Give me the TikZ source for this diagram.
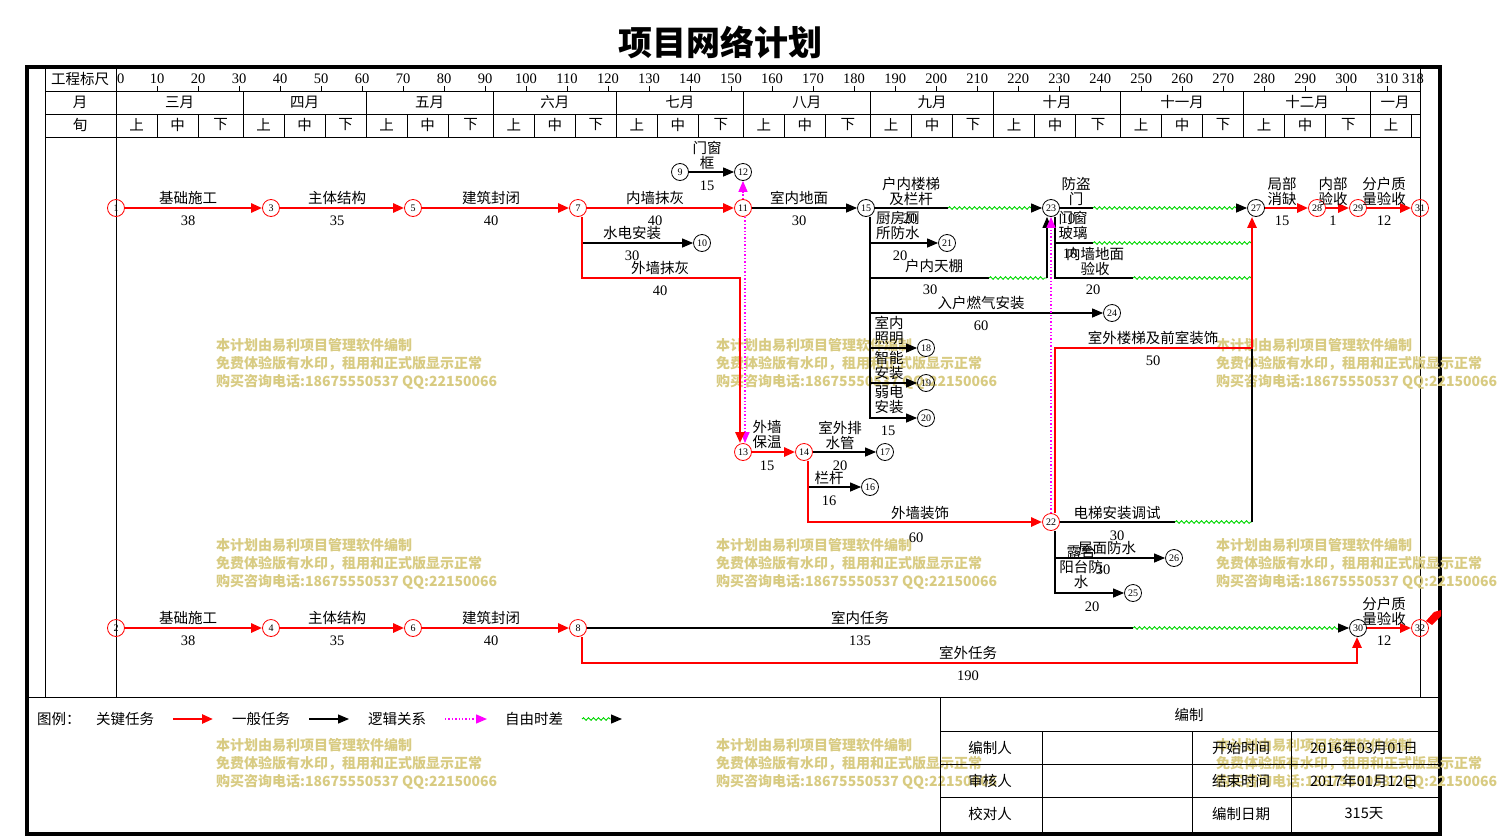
\documentclass[tikz,border=0pt]{standalone}
\usepackage{fontspec}
\setmainfont{Liberation Serif}
\newfontfamily\cjk{Noto Sans CJK SC}
\usetikzlibrary{positioning, arrows.meta, decorations.pathmorphing}
\definecolor{wmark}{RGB}{216,203,130}
\definecolor{slackgreen}{RGB}{0,215,0}
\definecolor{logicpink}{RGB}{255,0,255}
\tikzset{
    grid/.style={draw, line width=1pt},
    lbl/.style={font=\cjk\fontsize{14.5}{15}\selectfont, align=center, inner sep=0pt},
    dur/.style={font=\fontsize{14.5}{15}\selectfont, inner sep=0pt},
    evt/.style={circle, draw, line width=0.8pt, inner sep=0pt, minimum size=17pt, font=\fontsize{10}{10}\selectfont},
    critevt/.style={evt, draw=red},
    crit/.style={draw=red, line width=2.6pt},
    norm/.style={draw=black, line width=1.2pt},
    logic/.style={draw=logicpink, line width=1.4pt, dash pattern=on 1.4pt off 2pt},
    slack/.style={draw=slackgreen, line width=0.9pt, decorate, decoration={snake, amplitude=1.3pt, segment length=5pt}},
    tip/.style={-{Triangle[length=11pt,width=9pt]}},
    wm/.style={font=\cjk\bfseries\fontsize{14}{18}\selectfont, text=wmark, align=left, anchor=west, inner sep=0pt}
}
\begin{document}
\begin{tikzpicture}[x=1pt, y=-1pt]
    \useasboundingbox (0,0) rectangle (1499,838);

    % Title
    \node[font=\cjk\bfseries\fontsize{34}{36}\selectfont, inner sep=0pt] (title) at (720,42) {项目网络计划};

    % Frame and header grid
    \draw[line width=4pt] (27,67) rectangle (1440,834);
    \draw[grid] (45,67) -- (45,697);
    \draw[grid] (116,67) -- (116,697);
    \draw[grid] (1420,67) -- (1420,697);
    \draw[grid] (45,91) -- (1420,91);
    \draw[grid] (45,114) -- (1420,114);
    \draw[grid] (45,137) -- (1420,137);
    \draw[grid] (27,697) -- (1440,697);

    % Scale row
    \node[lbl] (hscale) at (80,79) {工程标尺};
    \node[lbl] (hmonth) at (80,102) {月};
    \node[lbl] (hxun) at (80,125) {旬};
    \node[dur, anchor=west] (s0) at (117,79) {0};
    \foreach \d in {10,20,...,310}{
        \pgfmathsetmacro\x{116+\d*4.10063}
        \draw[grid] (\x,86) -- (\x,91);
        \node[dur] (s\d) at (\x,79) {\d};
    }
    \node[dur, anchor=east] (s318) at (1424,79) {318};

    % Months and ten-day periods
    \foreach \a/\b/\m [count=\i] in {0/31/三月, 31/61/四月, 61/92/五月, 92/122/六月, 122/153/七月, 153/184/八月, 184/214/九月, 214/245/十月, 245/275/十一月, 275/306/十二月}{
        \pgfmathsetmacro\xa{116+\a*4.10063}
        \pgfmathsetmacro\xb{116+\b*4.10063}
        \pgfmathsetmacro\xc{\xa+41.0063}
        \pgfmathsetmacro\xd{\xa+82.0126}
        \draw[grid] (\xb,91) -- (\xb,137);
        \draw[grid] (\xc,114) -- (\xc,137);
        \draw[grid] (\xd,114) -- (\xd,137);
        \node[lbl] (mon\i) at ({(\xa+\xb)/2},102) {\m};
        \node[lbl] (up\i) at ({(\xa+\xc)/2},125) {上};
        \node[lbl] (mid\i) at ({(\xc+\xd)/2},125) {中};
        \node[lbl] (low\i) at ({(\xd+\xb)/2},125) {下};
    }
    \draw[grid] (1411.8,114) -- (1411.8,137);
    \node[lbl] (mon11) at (1395,102) {一月};
    \node[lbl] (up11) at (1391,125) {上};

    % Watermarks
    \foreach \wx/\wy [count=\k] in {216/346, 716/346, 1216/346, 216/546, 716/546, 1216/546, 216/746, 716/746, 1216/746}{
        \node[wm] (wm\k) at (\wx,\wy+18) {本计划由易利项目管理软件编制\\免费体验版有水印，租用和正式版显示正常\\购买咨询电话:18675550537 QQ:22150066};
    }

    % Events
    \node[critevt] (n1) at (116,208) {1};
    \node[critevt] (n3) at (271,208) {3};
    \node[critevt] (n5) at (413,208) {5};
    \node[critevt] (n7) at (578,208) {7};
    \node[evt] (n9) at (680,172) {9};
    \node[evt] (n12) at (743,172) {12};
    \node[evt] (n10) at (702,243) {10};
    \node[critevt] (n11) at (743,208) {11};
    \node[evt] (n15) at (866,208) {15};
    \node[evt] (n21) at (947,243) {21};
    \node[evt] (n24) at (1112,313) {24};
    \node[evt] (n18) at (926,348) {18};
    \node[evt] (n19) at (926,383) {19};
    \node[evt] (n20) at (926,418) {20};
    \node[evt] (n23) at (1051,208) {23};
    \node[evt] (n27) at (1256,208) {27};
    \node[critevt] (n28) at (1317,208) {28};
    \node[critevt] (n29) at (1358,208) {29};
    \node[critevt] (n31) at (1420,208) {31};
    \node[critevt] (n13) at (743,452) {13};
    \node[critevt] (n14) at (804,452) {14};
    \node[evt] (n17) at (885,452) {17};
    \node[evt] (n16) at (870,487) {16};
    \node[critevt] (n22) at (1051,522) {22};
    \node[evt] (n26) at (1174,558) {26};
    \node[evt] (n25) at (1133,593) {25};
    \node[critevt] (n2) at (116,628) {2};
    \node[critevt] (n4) at (271,628) {4};
    \node[critevt] (n6) at (413,628) {6};
    \node[critevt] (n8) at (578,628) {8};
    \node[evt] (n30) at (1358,628) {30};
    \node[critevt] (n32) at (1420,628) {32};

    % Bend points
    \coordinate (v7) at ([xshift=4pt]n7.south);
    \coordinate (v14) at ([xshift=4pt]n14.south);
    \coordinate (v15) at ([xshift=4pt]n15.south);
    \coordinate (v23) at ([xshift=4pt]n23.south);
    \coordinate (v22) at ([xshift=4pt]n22.south);
    \coordinate (u22) at ([xshift=4pt]n22.north);
    \coordinate (v8) at ([xshift=4pt]n8.south);
    \coordinate (k13) at (740,278);
    \coordinate (p1) at (948,208);
    \coordinate (p2) at (1032,208);
    \coordinate (p3) at (1093,208);
    \coordinate (p4) at (1238,208);
    \coordinate (w1) at (989,278);
    \coordinate (w2) at (1047,278);
    \coordinate (g1) at (1093,243);
    \coordinate (g2) at (1252,243);
    \coordinate (g3) at (1133,278);
    \coordinate (g4) at (1252,278);
    \coordinate (r1) at (1252,348);
    \coordinate (e1) at (1175,522);
    \coordinate (e2) at (1252,522);
    \coordinate (q1) at (1133,628);
    \coordinate (q2) at (1342,628);
    \coordinate (o1) at (1357,663);

    % General tasks
    \draw[norm,tip] (n9) -- (n12);
    \draw[norm,tip] (v7) |- (n10);
    \draw[norm,tip] (n11) -- (n15);
    \draw[norm] (n15) -- (p1);
    \draw[slack] (p1) -- (p2);
    \draw[norm,tip] (p2) -- (n23);
    \draw[norm,tip] (v15) |- (n21);
    \draw[norm] (v15) |- (w1);
    \draw[slack] (w1) -- (w2);
    \draw[norm,tip] (w2) -- (w2 |- n23.south);
    \draw[norm,tip] (v15) |- (n24);
    \draw[norm,tip] (v15) |- (n18);
    \draw[norm,tip] (v15) |- (n19);
    \draw[norm,tip] (v15) |- (n20);
    \draw[norm] (n23) -- (p3);
    \draw[slack] (p3) -- (p4);
    \draw[norm,tip] (p4) -- (n27);
    \draw[norm] (v23) |- (g1);
    \draw[slack] (g1) -- (g2);
    \draw[norm] (v23) |- (g3);
    \draw[slack] (g3) -- (g4);
    \draw[norm,tip] (n14) -- (n17);
    \draw[norm,tip] (v14) |- (n16);
    \draw[norm] (n22) -- (e1);
    \draw[slack] (e1) -- (e2);
    \draw[norm] (e2) -- (r1);
    \draw[norm,tip] (v22) |- (n26);
    \draw[norm,tip] (v22) |- (n25);
    \draw[norm] (n8) -- (q1);
    \draw[slack] (q1) -- (q2);
    \draw[norm,tip] (q2) -- (n30);

    % Logic links
    \draw[logic,tip] (n11.north) -- (n12.south);
    \draw[logic,tip] ([xshift=2pt]n11.south) -- ([xshift=2pt]n13.north);
    \draw[logic,tip] (n22.north) -- (n23.south);

    % Critical tasks
    \draw[crit,tip] (n1) -- (n3);
    \draw[crit,tip] (n3) -- (n5);
    \draw[crit,tip] (n5) -- (n7);
    \draw[crit,tip] (n7) -- (n11);
    \draw[crit,tip] (v7) |- (k13) -- (k13 |- n13.north);
    \draw[crit,tip] (n13) -- (n14);
    \draw[crit,tip] (v14) |- (n22);
    \draw[crit,tip] (u22) |- (r1) -- (r1 |- n27.south);
    \draw[crit,tip] (n27) -- (n28);
    \draw[crit,tip] (n28) -- (n29);
    \draw[crit,tip] (n29) -- (n31);
    \draw[crit,tip] (n2) -- (n4);
    \draw[crit,tip] (n4) -- (n6);
    \draw[crit,tip] (n6) -- (n8);
    \draw[crit,tip] (v8) |- (o1) -- (o1 |- n30.south);
    \draw[crit,tip] (n30) -- (n32);
    \fill[red] (1426,621) -- (1434,612) -- (1441,610) -- (1441,616) -- (1432,625) -- cycle;

    % Task labels, top
    \node[lbl] (t1) at (188,198) {基础施工};   \node[dur] (d1) at (188,221) {38};
    \node[lbl] (t2) at (337,198) {主体结构};   \node[dur] (d2) at (337,221) {35};
    \node[lbl] (t3) at (491,198) {建筑封闭};   \node[dur] (d3) at (491,221) {40};
    \node[lbl] (t4) at (655,198) {内墙抹灰};   \node[dur] (d4) at (655,221) {40};
    \node[lbl] (t5) at (799,198) {室内地面};   \node[dur] (d5) at (799,221) {30};
    \node[lbl] (t6) at (707,155) {门窗\\框};   \node[dur] (d6) at (707,186) {15};
    \node[lbl] (t7) at (632,233) {水电安装};   \node[dur] (d7) at (632,256) {30};
    \node[lbl] (t8) at (660,268) {外墙抹灰};   \node[dur] (d8) at (660,291) {40};
    \node[dur] (d9) at (910,219) {20};
    \node[lbl] (t9) at (911,191) {户内楼梯\\及栏杆};
    \node[lbl, anchor=west] (t10) at (876,225) {厨房厕\\所防水};
    \node[dur] (d10) at (900,256) {20};
    \node[lbl] (t11) at (934,266) {户内天棚};   \node[dur] (d11) at (930,290) {30};
    \node[lbl] (t12) at (981,303) {入户燃气安装}; \node[dur] (d12) at (981,326) {60};
    \node[lbl] (t13) at (889,330) {室内\\照明};
    \node[lbl] (t14) at (889,365) {智能\\安装};
    \node[lbl] (t15) at (889,400) {弱电\\安装};
    \node[dur] (d15) at (888,431) {15};
    \node[lbl] (t16) at (1076,191) {防盗\\门};
    \node[dur] (d16) at (1068,219) {10};
    \node[lbl] (t17) at (1073,225) {门窗\\玻璃};
    \node[dur] (d17) at (1070,254) {10};
    \node[lbl] (t18) at (1095,261) {内墙地面\\验收}; \node[dur] (d18) at (1093,290) {20};
    \node[lbl] (t19) at (1282,191) {局部\\消缺};   \node[dur] (d19) at (1282,221) {15};
    \node[lbl] (t20) at (1333,191) {内部\\验收};   \node[dur] (d20) at (1333,221) {1};
    \node[lbl] (t21) at (1384,191) {分户质\\量验收}; \node[dur] (d21) at (1384,221) {12};

    % Task labels, middle
    \node[lbl] (t22) at (1153,338) {室外楼梯及前室装饰}; \node[dur] (d22) at (1153,361) {50};
    \node[lbl] (t23) at (767,434) {外墙\\保温};   \node[dur] (d23) at (767,466) {15};
    \node[lbl] (t24) at (840,435) {室外排\\水管}; \node[dur] (d24) at (840,466) {20};
    \node[lbl] (t25) at (829,478) {栏杆};       \node[dur] (d25) at (829,501) {16};
    \node[lbl] (t26) at (920,513) {外墙装饰};   \node[dur] (d26) at (916,538) {60};
    \node[lbl] (t27) at (1117,513) {电梯安装调试}; \node[dur] (d27) at (1117,536) {30};
    \node[lbl] (t28) at (1107,548) {屋面防水};   \node[dur] (d28) at (1103,570) {30};
    \node[lbl] (t29) at (1081,567) {露台\\阳台防\\水}; \node[dur] (d29) at (1092,607) {20};

    % Task labels, bottom
    \node[lbl] (t30) at (188,618) {基础施工};   \node[dur] (d30) at (188,641) {38};
    \node[lbl] (t31) at (337,618) {主体结构};   \node[dur] (d31) at (337,641) {35};
    \node[lbl] (t32) at (491,618) {建筑封闭};   \node[dur] (d32) at (491,641) {40};
    \node[lbl] (t33) at (860,618) {室内任务};   \node[dur] (d33) at (860,641) {135};
    \node[lbl] (t34) at (968,653) {室外任务};   \node[dur] (d34) at (968,676) {190};
    \node[lbl] (t35) at (1384,611) {分户质\\量验收}; \node[dur] (d35) at (1384,641) {12};

    % Legend
    \node[lbl, anchor=west] (lg0) at (37,719) {图例：};
    \node[lbl] (lg1) at (125,719) {关键任务};
    \coordinate (la1) at (173,719); \coordinate (lb1) at (213,719);
    \draw[crit,tip] (la1) -- (lb1);
    \node[lbl] (lg2) at (261,719) {一般任务};
    \coordinate (la2) at (309,719); \coordinate (lb2) at (349,719);
    \draw[norm,tip] (la2) -- (lb2);
    \node[lbl] (lg3) at (397,719) {逻辑关系};
    \coordinate (la3) at (445,719); \coordinate (lb3) at (487,719);
    \draw[logic,tip] (la3) -- (lb3);
    \node[lbl] (lg4) at (534,719) {自由时差};
    \coordinate (la4) at (582,719); \coordinate (lm4) at (612,719); \coordinate (lb4) at (622,719);
    \draw[slack] (la4) -- (lm4);
    \draw[norm,tip] (lm4) -- (lb4);

    % Sign-off table
    \draw[grid] (940,697) -- (940,834);
    \draw[grid] (940,731) -- (1440,731);
    \draw[grid] (940,764) -- (1440,764);
    \draw[grid] (940,797) -- (1440,797);
    \foreach \x in {1042,1192,1291} \draw[grid] (\x,731) -- (\x,834);
    \node[lbl] (tb0) at (1189,715) {编制};
    \node[lbl] (tb1) at (990,748) {编制人};
    \node[lbl] (tb2) at (990,781) {审核人};
    \node[lbl] (tb3) at (990,814) {校对人};
    \node[lbl] (tb4) at (1241,748) {开始时间};
    \node[lbl] (tb5) at (1241,781) {结束时间};
    \node[lbl] (tb6) at (1241,814) {编制日期};
    \node[lbl] (tb7) at (1364,748) {2016年03月01日};
    \node[lbl] (tb8) at (1364,781) {2017年01月12日};
    \node[lbl] (tb9) at (1364,814) {315天};
\end{tikzpicture}
\end{document}
